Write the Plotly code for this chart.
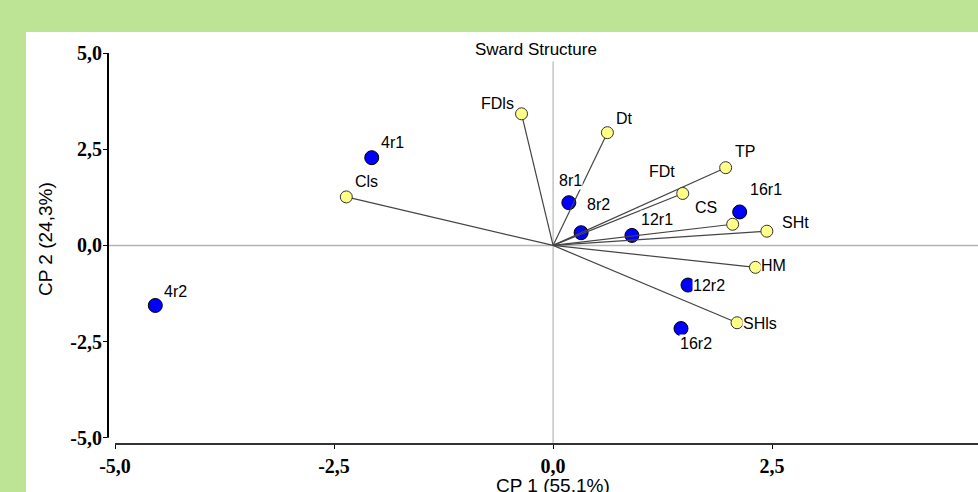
import plotly.graph_objects as go

# ---------------- data ----------------
var_names = ["FDls", "Dt", "FDt", "TP", "CS", "SHt", "HM", "SHls", "Cls"]
var_x = [-0.36, 0.62, 1.48, 1.97, 2.05, 2.44, 2.31, 2.10, -2.36]
var_y = [3.42, 2.93, 1.35, 2.02, 0.55, 0.37, -0.57, -2.01, 1.26]

sample_names = ["4r1", "4r2", "8r1", "8r2", "12r1", "16r1", "12r2", "16r2"]
sample_x = [-2.07, -4.54, 0.18, 0.32, 0.90, 2.13, 1.54, 1.46]
sample_y = [2.28, -1.56, 1.11, 0.33, 0.26, 0.87, -1.03, -2.16]

tick_vals = [-5, -2.5, 0, 2.5, 5]
tick_text = ["-5,0", "-2,5", "0,0", "2,5", "5,0"]

title_text = "Sward Structure"
x_title = "CP 1 (55,1%)"
y_title = "CP 2 (24,3%)"

# ---------------- styles (label offsets in px) ----------------
label_offsets = {
    "FDls": (-24, 10), "Dt": (17, 14), "FDt": (-21, 22), "TP": (19, 16),
    "CS": (-27, 17), "SHt": (29, 9), "HM": (18, 2), "SHls": (23, -1),
    "Cls": (20, 15), "4r1": (21, 15), "4r2": (20, 14), "8r1": (2, 22),
    "8r2": (17, 28), "12r1": (25, 16), "16r1": (26, 22), "12r2": (21, 0),
    "16r2": (15, -15),
}

GREEN = "#BDE394"
SANS = "Liberation Sans, Arial, sans-serif"
SERIF = "Liberation Serif, Times New Roman, serif"

X_RANGE = [-5.08, 4.85]
Y_RANGE = [-5.16, 5.0]

fig = go.Figure()

# sample scores (blue)
fig.add_trace(go.Scatter(
    x=sample_x, y=sample_y, mode="markers",
    marker=dict(size=14, color="#0000FF", line=dict(color="#000000", width=1)),
    hoverinfo="text", text=sample_names, showlegend=False))

# loading vectors
lx, ly = [], []
for vx, vy in zip(var_x, var_y):
    lx += [0, vx, None]
    ly += [0, vy, None]
fig.add_trace(go.Scatter(
    x=lx, y=ly, mode="lines", line=dict(color="#444444", width=1.2),
    hoverinfo="skip", showlegend=False))

# variable loadings (yellow)
fig.add_trace(go.Scatter(
    x=var_x, y=var_y, mode="markers",
    marker=dict(size=12, color="#FFFF88", line=dict(color="#333333", width=1)),
    hoverinfo="text", text=var_names, showlegend=False))

annotations = []
for name, x, y in list(zip(var_names, var_x, var_y)) + list(zip(sample_names, sample_x, sample_y)):
    dx, dy = label_offsets[name]
    annotations.append(dict(
        x=x, y=y, xref="x", yref="y", text=name, showarrow=False,
        xshift=dx, yshift=dy, xanchor="center", yanchor="middle",
        font=dict(family=SANS, size=16, color="#000000"),
        bgcolor="#FFFFFF", borderpad=0))

annotations.append(dict(
    x=0.492, y=1.0, xref="paper", yref="paper", text=title_text, showarrow=False,
    xanchor="center", yanchor="bottom", yshift=-8,
    font=dict(family=SANS, size=17, color="#000000")))
annotations.append(dict(
    x=(45 - 108) / 870, y=0.5, xref="paper", yref="paper",
    text=y_title, showarrow=False, textangle=-90, xanchor="center", yanchor="middle",
    yshift=9.5,
    font=dict(family=SANS, size=19, color="#000000")))
annotations.append(dict(
    x=0.0, y=0, xref="x", yref="paper", text=x_title, showarrow=False,
    xanchor="center", yanchor="top", yshift=-29,
    font=dict(family=SANS, size=19, color="#000000")))

shapes = [
    # white panel on the green page
    dict(type="rect", xref="paper", yref="paper",
         x0=(26 - 108) / 870, x1=1.01, y0=-0.3, y1=(444 - 32) / 391,
         fillcolor="#FFFFFF", line=dict(width=0), layer="below"),
    # zero lines
    dict(type="line", xref="x", yref="y", x0=0, x1=0, y0=Y_RANGE[0], y1=4.78,
         line=dict(color="#A8A8A8", width=1), layer="below"),
    dict(type="line", xref="x", yref="y", x0=X_RANGE[0], x1=X_RANGE[1], y0=0, y1=0,
         line=dict(color="#B4B4B4", width=1.5), layer="below"),
    # axis lines (offset style)
    dict(type="line", xref="paper", yref="y", x0=0, x1=0, y0=-5, y1=5,
         line=dict(color="#000000", width=2)),
    dict(type="line", xref="x", yref="paper", x0=-5, x1=X_RANGE[1], y0=0, y1=0,
         line=dict(color="#333333", width=2)),
]

fig.update_layout(
    width=978, height=492,
    margin=dict(l=108, r=0, t=53, b=48),
    paper_bgcolor=GREEN, plot_bgcolor="#FFFFFF",
    showlegend=False,
    annotations=annotations, shapes=shapes,
    xaxis=dict(range=X_RANGE, showgrid=False, zeroline=False, showline=False,
               tickvals=tick_vals, ticktext=tick_text, ticks="outside", ticklen=4,
               tickwidth=1, tickcolor="#000000",
               tickfont=dict(family=SERIF, size=20, color="#000000", weight="bold")),
    yaxis=dict(range=Y_RANGE, showgrid=False, zeroline=False, showline=False,
               tickvals=tick_vals, ticktext=tick_text, ticks="outside", ticklen=4,
               tickwidth=1, tickcolor="#000000", ticklabelstandoff=-3,
               tickfont=dict(family=SERIF, size=20, color="#000000", weight="bold")),
)

fig.write_html("out.html", config={"displayModeBar": False},
               post_script="document.body.style.margin='0';document.body.style.overflow='hidden';")
